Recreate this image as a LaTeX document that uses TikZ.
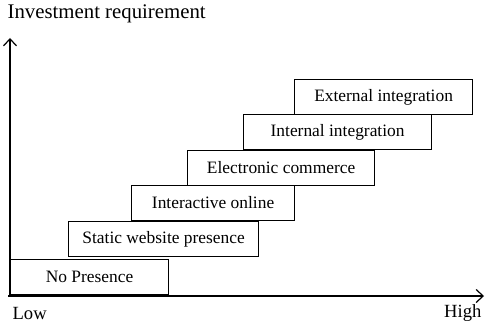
\documentclass[tikz,border=0pt]{standalone}
\usepackage{fontspec}
\setmainfont{Liberation Serif}
\usetikzlibrary{arrows, arrows.meta, calc}

\begin{document}
\begin{tikzpicture}[x=0.5pt, y=-0.5pt, line width=0.6pt,
    >={Straight Barb[length=3.5pt, width=6.5pt]},
    stage/.style={draw, anchor=south west, inner sep=0pt, minimum height=17.5pt,
      font=\fontsize{8.7}{10}\selectfont},
    axislabel/.style={inner sep=0pt, font=\fontsize{9.3}{11}\selectfont}]
                  \useasboundingbox (0, 0) rectangle (485, 326);

                  \coordinate (origin) at (10, 296);
                  \coordinate (ytop) at (10, 38);
                  \coordinate (xleft) at (8, 296);
                  \coordinate (xend) at (484, 296);

                  \node[stage, minimum width=79pt] (nopresence) at (10, 295) {No Presence};
                  \node[stage, minimum width=95pt] (static) at (68, 257) {Static website presence};
                  \node[stage, minimum width=81.5pt] (interactive) at (131, 221) {Interactive online};
                  \node[stage, minimum width=93.5pt] (ecommerce) at (187, 186) {Electronic commerce};
                  \node[stage, minimum width=94pt] (internal) at (243, 150) {Internal integration};
                  \node[stage, minimum width=89pt] (external) at (294, 115) {External integration};

                  \draw[->] (origin) -- (ytop);
                  \draw[->] (xleft) -- (xend);

                  \node[axislabel, anchor=west, font=\fontsize{10.4}{12}\selectfont] (invest) at (7, 14) {Investment requirement};
                  \node[axislabel, anchor=west] (low) at (12, 313) {Low};
                  \node[axislabel, anchor=east] (high) at (482, 313) {High};
              \end{tikzpicture}
\end{document}
